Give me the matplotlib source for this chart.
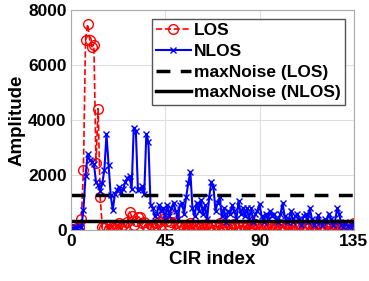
import numpy as np
import matplotlib
matplotlib.use("Agg")
import matplotlib.pyplot as plt

plt.rcParams['font.family'] = ['Liberation Sans', 'DejaVu Sans']
plt.rcParams['font.weight'] = 'bold'

# CIR index 1..135
cir_index = np.arange(1, 136)

los = [50, 30, 80, 120, 390, 2200, 6930, 7490, 6930, 6670,
       6730, 2450, 4420, 1200, 100, 60, 150, 30, 200, 80,
       40, 120, 250, 60, 180, 100, 300, 660, 510, 200,
       350, 460, 480, 250, 300, 150, 80, 200, 120, 60,
       250, 300, 180, 400, 600, 350, 200, 300, 510, 250,
       150, 100, 200, 60, 180, 90, 250, 40, 120, 200,
       80, 160, 30, 100, 220, 60, 140, 20, 180, 90,
       250, 50, 120, 200, 30, 150, 80, 240, 60, 110,
       20, 170, 90, 200, 40, 130, 60, 220, 100, 30,
       150, 70, 200, 40, 120, 180, 60, 90, 230, 30,
       140, 80, 190, 50, 110, 20, 160, 70, 210, 40,
       130, 90, 60, 180, 30, 150, 100, 220, 50, 120,
       20, 170, 80, 140, 40, 200, 60, 110, 30, 160,
       90, 50, 200, 120, 250]

nlos = [60, 120, 80, 150, 100, 750, 1960, 2760, 2550, 2480,
        2400, 1760, 1640, 1430, 1700, 2200, 3490, 2360, 1270, 730,
        1300, 1450, 1580, 1400, 1510, 1760, 1900, 1960, 1500, 3730,
        3610, 1450, 1510, 1600, 1300, 3490, 3210, 910, 800, 500,
        600, 900, 700, 800, 400, 900, 500, 800, 1000, 700,
        400, 900, 1000, 600, 1200, 1700, 2120, 800, 500, 1000,
        700, 1100, 600, 900, 400, 1200, 1760, 1580, 700, 1000,
        1210, 500, 800, 300, 700, 600, 900, 700, 400, 1070,
        600, 800, 500, 800, 400, 800, 300, 600, 700, 950,
        500, 300, 600, 400, 700, 500, 600, 400, 300, 600,
        970, 500, 300, 400, 700, 300, 500, 600, 400, 200,
        500, 600, 300, 790, 400, 200, 300, 545, 300, 200,
        400, 300, 600, 400, 200, 300, 790, 600, 200, 100,
        300, 150, 100, 250, 200]

max_noise_los = 1280
max_noise_nlos = 330

fig = plt.figure(figsize=(3.69, 2.81), dpi=100)
ax = fig.add_axes([0.192, 0.181, 0.767, 0.783])

ax.plot(cir_index, los, 'r--o', markerfacecolor='none', markersize=7,
        linewidth=1.2, label='LOS')
ax.plot(cir_index, nlos, 'b-x', markersize=5, linewidth=1.5, label='NLOS')
ax.axhline(max_noise_los, color='k', linestyle=(0, (4, 3)), linewidth=2.5,
           label='maxNoise (LOS)')
ax.axhline(max_noise_nlos, color='k', linestyle='-', linewidth=2.5,
           label='maxNoise (NLOS)')

ax.set_xlim(0, 135)
ax.set_ylim(0, 8000)
ax.set_xticks([0, 45, 90, 135])
ax.set_yticks([0, 2000, 4000, 6000, 8000])
ax.tick_params(labelsize=12.5, length=0, pad=3)
ax.grid(True, color='#e0e0e0', linewidth=0.8)
ax.set_axisbelow(True)
for s in ax.spines.values():
    s.set_color('#aaaaaa')

ax.set_xlabel('CIR index', fontsize=13.5, fontweight='bold', labelpad=1)
ax.set_ylabel('Amplitude', fontsize=13.5, fontweight='bold', labelpad=2)

leg = ax.legend(loc='upper right', fontsize=12.5, handlelength=2.0,
                handletextpad=0.2, labelspacing=0.32, borderpad=0.25,
                fancybox=False, framealpha=1, borderaxespad=0.5)
leg.get_frame().set_edgecolor('#555555')

fig.savefig('out.png', dpi=100)
